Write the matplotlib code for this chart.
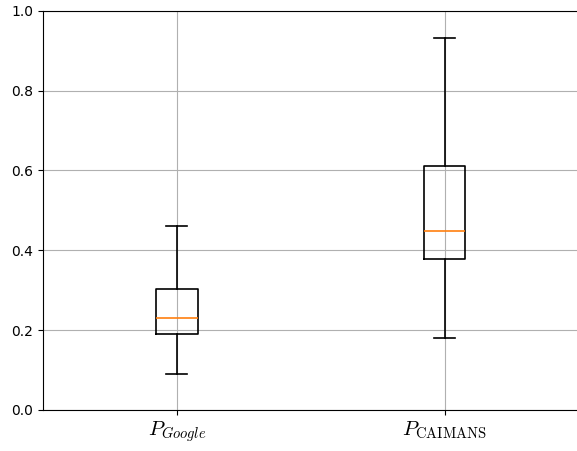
import matplotlib
matplotlib.use('Agg')
import matplotlib.pyplot as plt

# Box statistics
labels = [r'$P_{Google}$', r'$P_{\mathrm{CAIMANS}}$']
whislo = [0.09, 0.18]
q1 = [0.19, 0.378]
med = [0.231, 0.449]
q3 = [0.303, 0.612]
whishi = [0.461, 0.933]

stats = []
for i in range(len(labels)):
    stats.append({'label': labels[i], 'whislo': whislo[i], 'q1': q1[i],
                  'med': med[i], 'q3': q3[i], 'whishi': whishi[i], 'fliers': []})

plt.rcParams['mathtext.fontset'] = 'cm'

fig = plt.figure(figsize=(5.77, 4.51), dpi=100)
ax = fig.add_axes([0.0745, 0.091, 0.928, 0.885])
ax.bxp(stats, showfliers=False, widths=0.155,
       boxprops={'linewidth': 1.2}, whiskerprops={'linewidth': 1.2},
       capprops={'linewidth': 1.2}, medianprops={'linewidth': 1.2, 'color': 'C1'})
ax.set_ylim(0, 1.0)
ax.grid(True)
ax.tick_params(axis='x', labelsize=15)

plt.savefig('out.png', dpi=100)
